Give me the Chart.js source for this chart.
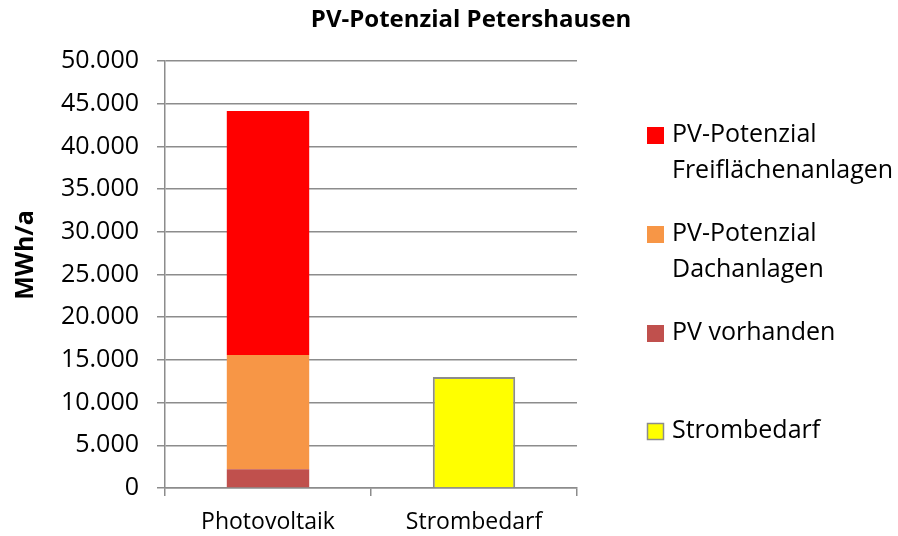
<!DOCTYPE html>
<html>
<head>
<meta charset="utf-8">
<script src="https://cdn.jsdelivr.net/npm/chart.js@4"></script>
<style>
html,body{margin:0;padding:0;background:#fff;}
#wrap{width:898px;height:536px;position:relative;}
</style>
</head>
<body>
<div id="wrap"><canvas id="c" width="898" height="536"></canvas></div>
<script>
const chartTitle = 'PV-Potenzial Petershausen';
const yAxisTitle = 'MWh/a';
const categories = ['Photovoltaik', 'Strombedarf'];
const pvVorhanden = [2200, null];
const pvDach = [13370, null];
const pvFrei = [28580, null];
const strombedarf = [null, 13000];
const seriesLabels = ['PV vorhanden', 'PV-Potenzial Dachanlagen', 'PV-Potenzial Freiflächenanlagen', 'Strombedarf'];
const legendLines = {
  'PV-Potenzial Freiflächenanlagen': ['PV-Potenzial', 'Freiflächenanlagen'],
  'PV-Potenzial Dachanlagen': ['PV-Potenzial', 'Dachanlagen'],
  'PV vorhanden': ['PV vorhanden'],
  'Strombedarf': ['Strombedarf']
};
const yMin = 0, yMax = 50000, yStep = 5000;

const FONT = "'Open Sans', 'Liberation Sans', sans-serif";
const GRID = '#8c8c8c';

function fmt(v){
  return Math.round(v).toString().replace(/\B(?=(\d{3})+(?!\d))/g, '.');
}

const textPlugin = {
  id: 'customTexts',
  afterDraw(chart){
    const ctx = chart.ctx;
    ctx.save();
    ctx.fillStyle = '#000';
    ctx.textAlign = 'center';
    ctx.textBaseline = 'middle';
    ctx.font = 'bold 24px ' + FONT;
    ctx.fillText(chartTitle, 471, 20);
    ctx.translate(26, 255);
    ctx.rotate(-Math.PI / 2);
    ctx.font = 'bold 25px ' + FONT;
    ctx.fillText(yAxisTitle, 0, 0);
    ctx.restore();
  }
};

const legendPlugin = {
  id: 'customLegend',
  afterDraw(chart){
    const ctx = chart.ctx;
    const order = [2, 1, 0, 3];
    const firstLineY = [135, 234, 333, 431];
    ctx.save();
    ctx.font = '25px ' + FONT;
    ctx.textBaseline = 'middle';
    ctx.textAlign = 'left';
    order.forEach((di, k) => {
      const ds = chart.data.datasets[di];
      const y0 = firstLineY[k];
      ctx.fillStyle = ds.backgroundColor;
      ctx.fillRect(647, y0 - 8, 17, 17);
      if (ds.borderWidth) {
        ctx.strokeStyle = ds.borderColor;
        ctx.lineWidth = 1.5;
        ctx.strokeRect(647.5, y0 - 7.5, 16, 16);
      }
      ctx.fillStyle = '#000';
      const lines = legendLines[ds.label];
      lines.forEach((t, i) => ctx.fillText(t, 672, y0 + i * 36));
    });
    ctx.restore();
  }
};

new Chart(document.getElementById('c'), {
  type: 'bar',
  data: {
    labels: categories,
    datasets: [
      { label: seriesLabels[0], data: pvVorhanden, backgroundColor: '#C0504D', borderWidth: 0 },
      { label: seriesLabels[1], data: pvDach, backgroundColor: '#F79646', borderWidth: 0 },
      { label: seriesLabels[2], data: pvFrei, backgroundColor: '#FF0000', borderWidth: 0 },
      { label: seriesLabels[3], data: strombedarf, backgroundColor: '#FFFF00', borderColor: '#8c8c8c', borderWidth: 2 }
    ]
  },
  options: {
    responsive: false,
    animation: false,
    devicePixelRatio: 1,
    layout: { padding: { top: 61, right: 321, bottom: 0, left: 0 } },
    datasets: { bar: { barPercentage: 0.40, categoryPercentage: 1.0 } },
    plugins: {
      legend: { display: false },
      title: { display: false },
      tooltip: { enabled: false }
    },
    scales: {
      x: {
        stacked: true,
        grid: { drawOnChartArea: false, drawTicks: true, tickLength: 8, color: GRID, lineWidth: 1.5 },
        border: { display: true, color: GRID, width: 1.5 },
        ticks: { color: '#000', font: { family: FONT, size: 23 }, padding: 13 },
        afterFit(scale){ scale.height = 48; }
      },
      y: {
        stacked: true,
        min: yMin, max: yMax,
        grid: { color: GRID, lineWidth: 1.5, drawTicks: true, tickLength: 8 },
        border: { display: true, color: GRID, width: 1.5 },
        ticks: { stepSize: yStep, color: '#000', font: { family: FONT, size: 25 }, padding: 18, callback: (v) => fmt(v) },
        title: { display: false },
        afterFit(scale){ scale.width = 165; }
      }
    }
  },
  plugins: [textPlugin, legendPlugin]
});
</script>
</body>
</html>
